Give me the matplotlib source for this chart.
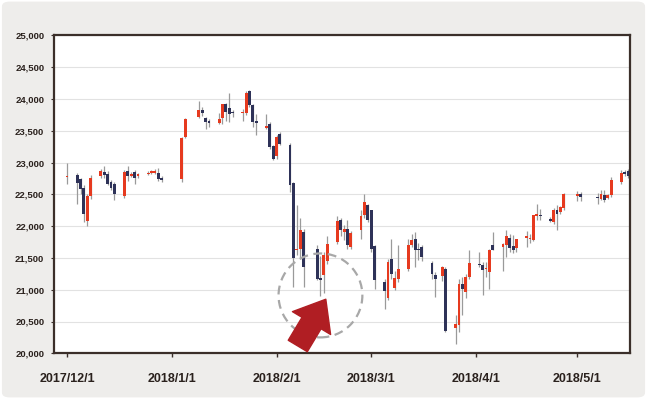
import matplotlib
matplotlib.use('Agg')
import matplotlib.pyplot as plt
import matplotlib.dates as mdates
from matplotlib.patches import FancyBboxPatch, Ellipse
import numpy as np
import pandas as pd

# daily candles (Dec 2017 - May 2018)
dates = ['2017-12-01', '2017-12-04', '2017-12-05', '2017-12-06', '2017-12-07', '2017-12-08', '2017-12-11',
         '2017-12-12', '2017-12-13', '2017-12-14', '2017-12-15', '2017-12-18', '2017-12-19', '2017-12-20',
         '2017-12-21', '2017-12-22', '2017-12-25', '2017-12-26', '2017-12-27', '2017-12-28', '2017-12-29',
         '2018-01-04', '2018-01-05', '2018-01-09', '2018-01-10', '2018-01-11', '2018-01-12', '2018-01-15',
         '2018-01-16', '2018-01-17', '2018-01-18', '2018-01-19', '2018-01-22', '2018-01-23', '2018-01-24',
         '2018-01-25', '2018-01-26', '2018-01-29', '2018-01-30', '2018-01-31',
         '2018-02-01', '2018-02-02', '2018-02-05', '2018-02-06', '2018-02-07', '2018-02-08', '2018-02-09',
         '2018-02-13', '2018-02-14', '2018-02-15', '2018-02-16', '2018-02-19', '2018-02-20', '2018-02-21',
         '2018-02-22', '2018-02-23', '2018-02-26', '2018-02-27', '2018-02-28',
         '2018-03-01', '2018-03-02', '2018-03-05', '2018-03-06', '2018-03-07', '2018-03-08', '2018-03-09',
         '2018-03-12', '2018-03-13', '2018-03-14', '2018-03-15', '2018-03-16', '2018-03-19', '2018-03-20',
         '2018-03-22', '2018-03-23', '2018-03-26', '2018-03-27', '2018-03-28', '2018-03-29', '2018-03-30',
         '2018-04-02', '2018-04-03', '2018-04-04', '2018-04-05', '2018-04-06', '2018-04-09', '2018-04-10',
         '2018-04-11', '2018-04-12', '2018-04-13', '2018-04-16', '2018-04-17', '2018-04-18', '2018-04-19',
         '2018-04-20', '2018-04-23', '2018-04-24', '2018-04-25', '2018-04-26', '2018-04-27',
         '2018-05-01', '2018-05-02', '2018-05-07', '2018-05-08', '2018-05-09', '2018-05-10', '2018-05-11',
         '2018-05-14', '2018-05-15', '2018-05-16']

opens = [22770, 22805, 22742, 22606, 22084, 22480, 22780, 22857, 22820, 22700, 22664, 22476, 22868, 22790,
         22857, 22780, 22816, 22840, 22840, 22841, 22762,
         22745, 23408, 23722, 23833, 23703, 23650, 23618, 23703, 23912, 23850, 23790, 23780, 23776, 24121,
         23902, 23660, 23545, 23610, 23254,
         23095, 23450, 23283, 22670, 21620, 21647, 21908, 21645, 21180, 21225, 21450, 21750, 22090, 21908,
         21960, 21670, 21932, 22168, 22327,
         22247, 21686, 21120, 20869, 21477, 21032, 21174, 21320, 21708, 21790, 21640, 21670, 21425, 21236,
         21222, 21330, 20397, 20450, 21095, 20963, 21199,
         21410, 21382, 21325, 21277, 21697, 21670, 21697, 21817, 21681, 21660, 21811, 21800, 21786, 22153,
         22180, 22116, 22063, 22257, 22220, 22289,
         22480, 22500, 22460, 22430, 22493, 22446, 22482, 22691, 22850, 22864]

highs = [23000, 22840, 22760, 22640, 22500, 22800, 22900, 22946, 22870, 22720, 22690, 22880, 22946, 22850,
         22880, 22840, 22860, 22880, 22890, 22920, 22780,
         23400, 23700, 23964, 23880, 23722, 23690, 23780, 23924, 23930, 24096, 23830, 23845, 24120, 24140,
         23920, 23765, 23765, 23630, 23270,
         23430, 23480, 23300, 22700, 22330, 22130, 21960, 21700, 21536, 21600, 21838, 22160, 22130, 22010,
         22090, 21920, 22247, 22500, 22350,
         22260, 21700, 21174, 21480, 21802, 21300, 21700, 21800, 21880, 21906, 21740, 21700, 21450, 21276,
         21380, 21350, 20607, 21170, 21200, 21250, 21618,
         21590, 21434, 21440, 21645, 21910, 21740, 21943, 21880, 21860, 21800, 21930, 21870, 22180, 22341,
         22270, 22150, 22280, 22325, 22320, 22520,
         22550, 22540, 22520, 22560, 22560, 22510, 22770, 22880, 22880, 22890]

lows = [22660, 22350, 22500, 22058, 22006, 22430, 22760, 22762, 22640, 22560, 22413, 22440, 22711, 22770,
        22658, 22760, 22800, 22820, 22820, 22711, 22700,
        22700, 23380, 23703, 23725, 23530, 23560, 23600, 23610, 23660, 23634, 23720, 23660, 23750, 23880,
        23556, 23425, 23530, 23220, 23040,
        23050, 23270, 22540, 21046, 21540, 21490, 21042, 21150, 20900, 20950, 21410, 21720, 21840, 21775,
        21645, 21640, 21800, 22130, 22060,
        21600, 21017, 20690, 20840, 21174, 20990, 21120, 21290, 21670, 21356, 21460, 21450, 21174, 20884,
        21130, 20340, 20152, 20340, 20597, 20870, 21174,
        21350, 20911, 21200, 21017, 21620, 21293, 21513, 21600, 21570, 21600, 21670, 21740, 21760, 22090,
        22090, 22060, 22040, 21943, 22190, 22260,
        22390, 22400, 22340, 22410, 22380, 22420, 22456, 22660, 22780, 22760]

closes = [22790, 22684, 22585, 22189, 22476, 22762, 22868, 22805, 22669, 22596, 22507, 22857, 22790, 22826,
          22762, 22820, 22841, 22860, 22870, 22737, 22721,
          23389, 23686, 23833, 23781, 23634, 23618, 23686, 23912, 23792, 23770, 23776, 23795, 24090, 23902,
          23634, 23620, 23580, 23243, 23060,
          23408, 23294, 22639, 21502, 21645, 21935, 21358, 21174, 21154, 21540, 21723, 22078, 21932, 21960,
          21700, 21890, 22160, 22377, 22090,
          21645, 21150, 20974, 21435, 21252, 21183, 21330, 21708, 21775, 21618, 21620, 21513, 21252, 21162,
          21360, 20350, 20466, 21095, 21017, 21200, 21425,
          21395, 21315, 21346, 21629, 21629, 21723, 21838, 21660, 21629, 21791, 21838, 21820, 22168, 22184,
          22160, 22074, 22257, 22195, 22298, 22498,
          22500, 22460, 22445, 22509, 22404, 22493, 22718, 22833, 22812, 22780]

tick_dates = ['2017-12-01', '2018-01-01', '2018-02-01', '2018-03-01', '2018-04-01', '2018-05-01']
tick_labels = ['2017/12/1', '2018/1/1', '2018/2/1', '2018/3/1', '2018/4/1', '2018/5/1']
y_ticks = list(range(20000, 25001, 500))

# annotation: dashed circle around the February low, arrow pointing at it
circle_center = ('2018-02-14', 20910)
arrow_tip = ('2018-02-15 14:00', 20850)
arrow_tail = ('2018-02-07 07:00', 20115)

RED = '#e63a1f'
NAVY = '#2e3258'
FRAME = '#3b2f2a'

x = mdates.date2num(pd.to_datetime(dates))
o = np.array(opens)
h = np.array(highs)
l = np.array(lows)
c = np.array(closes)
colors = np.where(c >= o, RED, NAVY)

plt.rcParams['font.family'] = ['Liberation Sans', 'DejaVu Sans']

fig = plt.figure(figsize=(6.47, 3.99), dpi=100, facecolor='white')
panel = FancyBboxPatch((0.003, 0.004), 0.994, 0.992, boxstyle='round,pad=0,rounding_size=0.012',
                       transform=fig.transFigure, facecolor='#eeedeb', edgecolor='none', zorder=-1)
fig.patches.append(panel)

ax = fig.add_axes([54 / 647, 1 - 353.3 / 399, 576 / 647, 318 / 399])
ax.set_facecolor('white')

ax.vlines(x, l, h, color='#9a9a9a', lw=0.9, zorder=2)
ax.bar(x, c - o, bottom=o, width=0.85, color=colors, linewidth=0, zorder=3)

x0 = mdates.date2num(pd.Timestamp('2017-12-01'))
ax.set_xlim(x0 - 3.85, x0 + 166.6)
ax.set_ylim(20000, 25000)

ax.set_yticks(y_ticks)
ax.set_yticklabels([f'{v:,}' for v in y_ticks], fontweight='bold')
ax.set_xticks(mdates.date2num(pd.to_datetime(tick_dates)))
ax.set_xticklabels(tick_labels, fontweight='bold')
ax.grid(axis='y', color='#e2e2e2', lw=0.8)
ax.set_axisbelow(True)

for s in ax.spines.values():
    s.set_color(FRAME)
    s.set_linewidth(1.6)

ax.tick_params(axis='x', direction='out', length=3, width=1, color=FRAME, pad=11.5,
               labelsize=9, labelcolor='#2a211d')
ax.tick_params(axis='y', direction='out', length=2.5, width=0.8, color=FRAME, pad=4.5,
               labelsize=6.8, labelcolor='#2a211d')

# dashed circle (drawn as ellipse in data units so it looks round)
cc = mdates.date2num(pd.Timestamp(circle_center[0]))
ax.add_patch(Ellipse((cc, circle_center[1]), width=24.8, height=1320, fill=False,
                     edgecolor='#a8a8a8', lw=1.6, ls=(0, (4, 2.5)), zorder=4))

ax.annotate('', xy=(mdates.date2num(pd.Timestamp(arrow_tip[0])), arrow_tip[1]),
            xytext=(mdates.date2num(pd.Timestamp(arrow_tail[0])), arrow_tail[1]),
            arrowprops=dict(arrowstyle='simple,head_length=20,head_width=32,tail_width=16',
                            mutation_scale=1, color='#b01e23', shrinkA=0, shrinkB=0),
            zorder=5)

fig.savefig('out.png', dpi=100, facecolor=fig.get_facecolor())
